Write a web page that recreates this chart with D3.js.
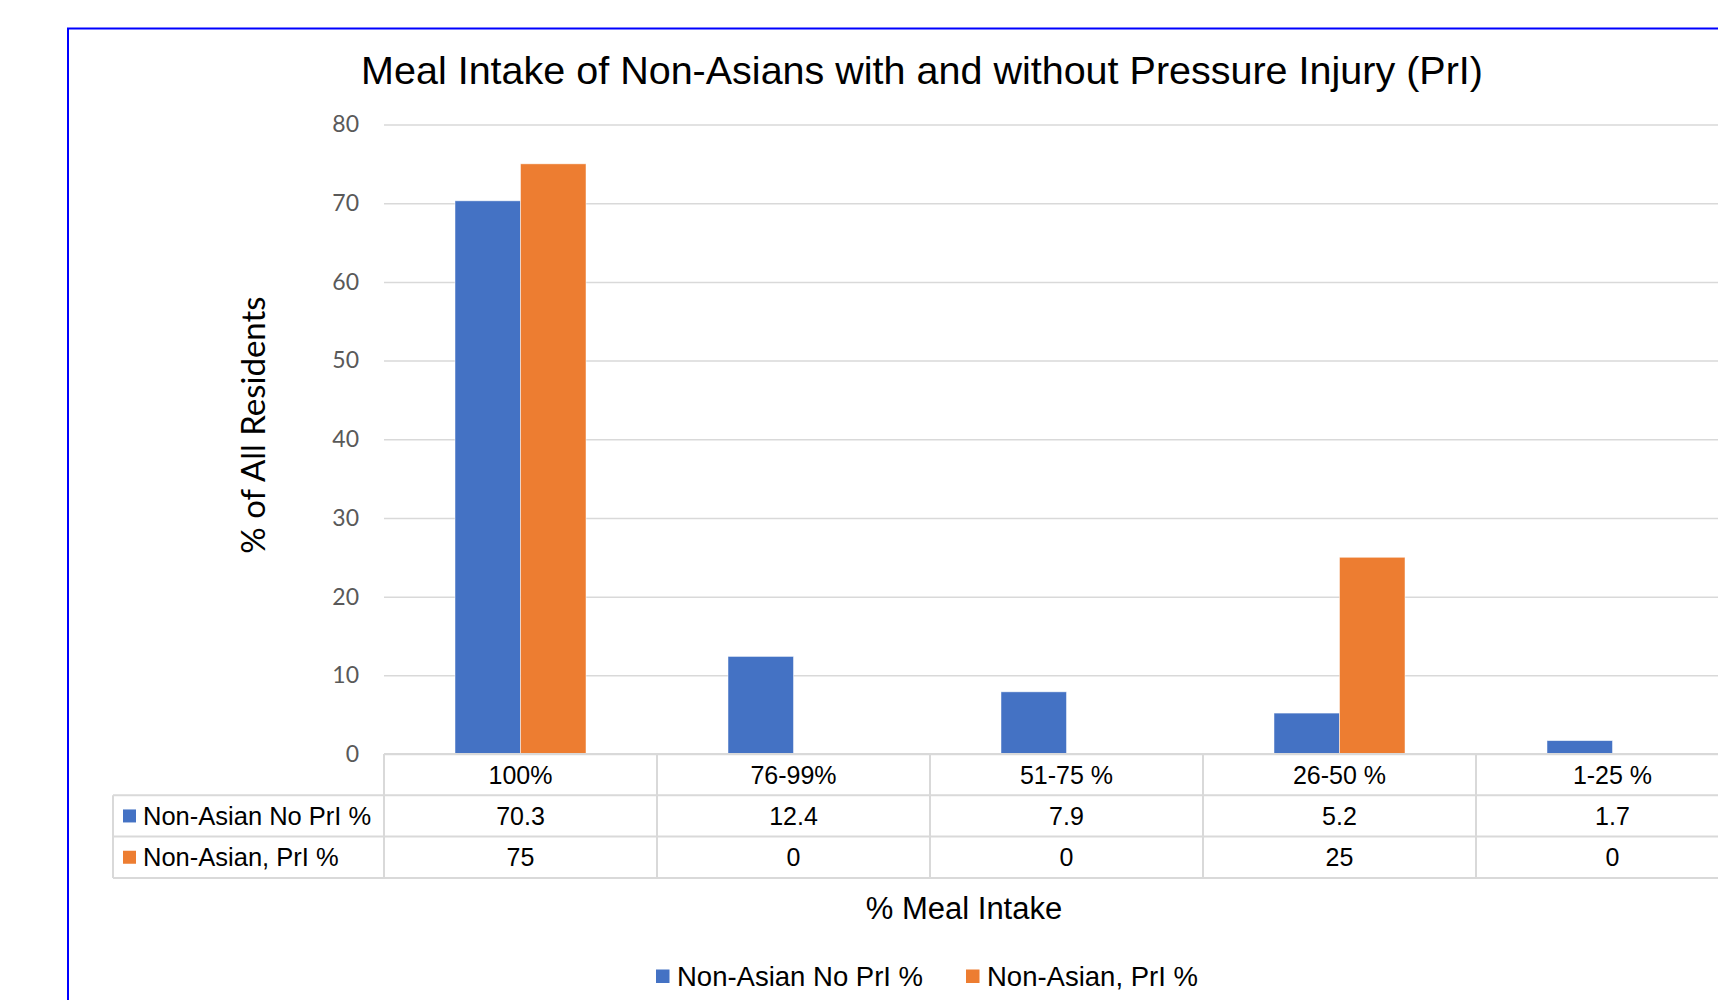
<!DOCTYPE html>
<html>
<head>
<meta charset="utf-8">
<script src="https://cdn.jsdelivr.net/npm/d3@7"></script>
<style>
  body { margin: 0; background: #fff; }
  .tick line { stroke: #d9d9d9; stroke-width: 1.5px; }
  .tick text { fill: #595959; font-family: Lato, "Open Sans", sans-serif; font-size: 23px; }
</style>
</head>
<body>
<script>
var categories = ["100%", "76-99%", "51-75 %", "26-50 %", "1-25 %"];
var seriesNames = ["Non-Asian No PrI %", "Non-Asian, PrI %"];
var noPrI = [70.3, 12.4, 7.9, 5.2, 1.7];
var withPrI = [75, 0, 0, 25, 0];
var yTicks = [0, 10, 20, 30, 40, 50, 60, 70, 80];
var colors = ["#4472c4", "#ed7d31"];

var width = 1718, height = 1000;
var plotLeft = 384, plotRight = 1749, plotTop = 124.5, plotBottom = 754;
var rowH = 41.3, tableLeft = 113;
var txtFont = '"Liberation Sans", Arial, sans-serif';

var series = [noPrI, withPrI];

var svg = d3.select("body").append("svg")
  .attr("width", width)
  .attr("height", height);

svg.append("rect").attr("width", width).attr("height", height).attr("fill", "#fff");

// frame
svg.append("rect")
  .attr("x", 68).attr("y", 28.5)
  .attr("width", 1800).attr("height", 1100)
  .attr("fill", "none")
  .attr("stroke", "#0000ff")
  .attr("stroke-width", 2);

svg.append("text")
  .attr("x", 922).attr("y", 84)
  .attr("text-anchor", "middle")
  .attr("font-family", txtFont)
  .attr("font-size", 39.5)
  .attr("fill", "#000")
  .text("Meal Intake of Non-Asians with and without Pressure Injury (PrI)");

var x0 = d3.scaleBand()
  .domain(categories)
  .range([plotLeft, plotRight]);

var x1 = d3.scaleBand()
  .domain(d3.range(series.length))
  .range([0, x0.bandwidth()])
  .paddingOuter(1.084);

var y = d3.scaleLinear()
  .domain([0, 80])
  .range([plotBottom, plotTop]);

// y axis + gridlines
var yAxis = d3.axisLeft(y)
  .tickValues(yTicks)
  .tickSize(-(plotRight - plotLeft))
  .tickPadding(25);

svg.append("g")
  .attr("class", "y axis")
  .attr("transform", "translate(" + plotLeft + ",0)")
  .call(yAxis)
  .call(function(g){ g.select(".domain").remove(); });

svg.append("text")
  .attr("transform", "translate(252,425) rotate(-90)")
  .attr("text-anchor", "middle")
  .attr("dominant-baseline", "central")
  .attr("font-family", 'Lato, "Open Sans", sans-serif')
  .attr("font-size", 33)
  .attr("fill", "#000")
  .text("% of All Residents");

// bars
series.forEach(function(vals, s){
  svg.append("g").selectAll("rect")
    .data(vals)
    .enter()
    .append("rect")
    .attr("x", function(d, i){ return x0(categories[i]) + x1(s); })
    .attr("width", x1.bandwidth())
    .attr("y", function(d){ return y(d); })
    .attr("height", function(d){ return plotBottom - y(d); })
    .attr("fill", colors[s])
    .attr("stroke", "#fff")
    .attr("stroke-opacity", 0.6)
    .attr("stroke-width", 0.8);
});

// data table
var tbl = svg.append("g")
  .attr("stroke", "#d9d9d9")
  .attr("stroke-width", 2);

tbl.append("line").attr("x1", plotLeft).attr("x2", width + 40).attr("y1", plotBottom).attr("y2", plotBottom);
for (var r = 1; r <= series.length + 1; r++) {
  tbl.append("line")
    .attr("x1", tableLeft).attr("x2", width + 40)
    .attr("y1", plotBottom + r * rowH).attr("y2", plotBottom + r * rowH);
}
tbl.append("line")
  .attr("x1", tableLeft).attr("x2", tableLeft)
  .attr("y1", plotBottom + rowH).attr("y2", plotBottom + 3 * rowH);
tbl.selectAll("line.col")
  .data(categories.concat(["end"]))
  .enter()
  .append("line")
  .attr("class", "col")
  .attr("x1", function(d, i){ return plotLeft + i * x0.step(); })
  .attr("x2", function(d, i){ return plotLeft + i * x0.step(); })
  .attr("y1", plotBottom)
  .attr("y2", plotBottom + 3 * rowH);

svg.append("g").selectAll("text")
  .data(categories)
  .enter()
  .append("text")
  .attr("x", function(d){ return x0(d) + x0.bandwidth() / 2; })
  .attr("y", plotBottom + rowH / 2)
  .attr("text-anchor", "middle")
  .attr("dominant-baseline", "central")
  .attr("font-family", txtFont)
  .attr("font-size", 25)
  .attr("fill", "#000")
  .text(function(d){ return d; });

series.forEach(function(vals, s){
  var cy = plotBottom + (s + 1.5) * rowH;
  svg.append("rect")
    .attr("x", 123).attr("y", cy - 6.5)
    .attr("width", 13).attr("height", 13)
    .attr("fill", colors[s]);
  svg.append("text")
    .attr("x", 143).attr("y", cy)
    .attr("dominant-baseline", "central")
    .attr("font-family", txtFont)
    .attr("font-size", 25.5)
    .attr("fill", "#000")
    .text(seriesNames[s]);
  svg.append("g").selectAll("text")
    .data(vals)
    .enter()
    .append("text")
    .attr("x", function(d, i){ return x0(categories[i]) + x0.bandwidth() / 2; })
    .attr("y", cy)
    .attr("text-anchor", "middle")
    .attr("dominant-baseline", "central")
    .attr("font-family", txtFont)
    .attr("font-size", 25)
    .attr("fill", "#000")
    .text(function(d){ return d; });
});

svg.append("text")
  .attr("x", 964).attr("y", 908)
  .attr("text-anchor", "middle")
  .attr("dominant-baseline", "central")
  .attr("font-family", txtFont)
  .attr("font-size", 31)
  .attr("fill", "#000")
  .text("% Meal Intake");

// legend
var legX = [656, 966];
seriesNames.forEach(function(name, s){
  svg.append("rect")
    .attr("x", legX[s]).attr("y", 976 - 6.5)
    .attr("width", 13.5).attr("height", 13.5)
    .attr("fill", colors[s]);
  svg.append("text")
    .attr("x", legX[s] + 21).attr("y", 976)
    .attr("dominant-baseline", "central")
    .attr("font-family", txtFont)
    .attr("font-size", 27.5)
    .attr("fill", "#000")
    .text(name);
});
</script>
</body>
</html>
